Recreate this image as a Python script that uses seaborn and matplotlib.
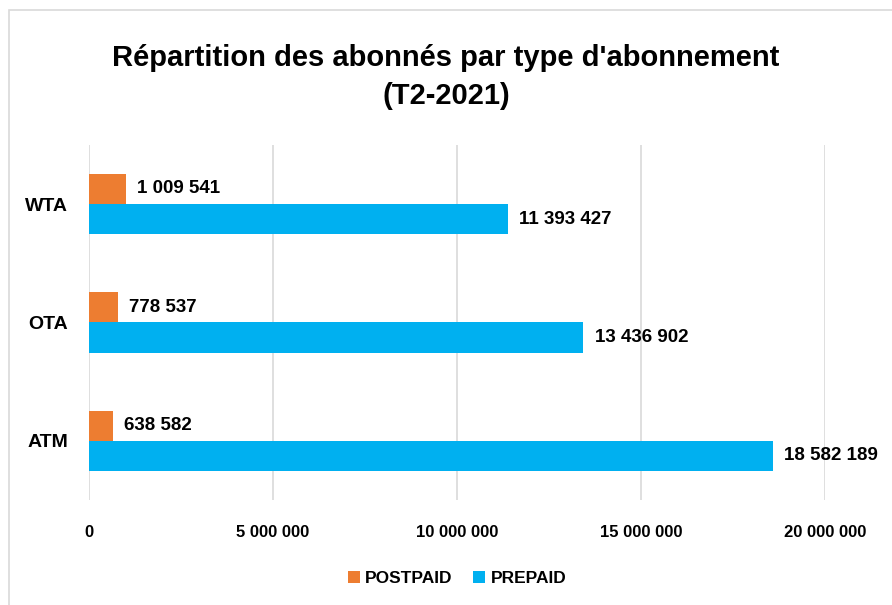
import matplotlib
matplotlib.use("Agg")
import matplotlib.pyplot as plt
import matplotlib.patches as patches
import pandas as pd
import seaborn as sns

# values
operators = ["WTA", "OTA", "ATM"]
postpaid = [1009541, 778537, 638582]
prepaid = [11393427, 13436902, 18582189]
series = ["POSTPAID", "PREPAID"]
colors = ["#ED7D31", "#00B0F0"]
xticks = [0, 5000000, 10000000, 15000000, 20000000]

def fmt(v):
    return f"{v:,.0f}".replace(",", " ")

df = pd.DataFrame({
    "operateur": operators * 2,
    "type": ["POSTPAID"] * 3 + ["PREPAID"] * 3,
    "abonnes": postpaid + prepaid,
})

sns.set_style("white")
plt.rcParams["font.family"] = ["Liberation Sans Narrow", "Liberation Sans", "DejaVu Sans"]
plt.rcParams["font.weight"] = "bold"
plt.rcParams["text.color"] = "black"
plt.rcParams["xtick.color"] = "black"
plt.rcParams["ytick.color"] = "black"

fig = plt.figure(figsize=(8.92, 6.05), dpi=100)
ax = fig.add_axes([0.0998, 0.1736, 0.825, 0.587])

sns.barplot(data=df, y="operateur", x="abonnes", hue="type", order=operators,
            hue_order=series, palette=colors, orient="h", width=0.51,
            saturation=1, linewidth=0, ax=ax)

for cont in ax.containers:
    ax.bar_label(cont, labels=[fmt(v) for v in cont.datavalues], padding=8,
                 fontsize=13.5, fontweight="bold", color="black")

ax.set_xlim(0, 20000000)
ax.set_ylim(2.5, -0.5)
ax.set_xticks(xticks)
ax.set_xticklabels([fmt(v) for v in xticks], fontsize=12, fontweight="bold")
ax.set_yticks(range(len(operators)))
ax.set_yticklabels(operators, fontsize=14, fontweight="bold")
ax.tick_params(axis="x", length=0, pad=18)
ax.tick_params(axis="y", length=0, pad=15)
ax.set_xlabel("")
ax.set_ylabel("")
ax.grid(axis="x", color="#d9d9d9", linewidth=1.2)
ax.set_axisbelow(True)
for s in ax.spines.values():
    s.set_visible(False)

ax.legend(loc="upper center", bbox_to_anchor=(0.5, -0.155), ncol=2, frameon=False,
          fontsize=12.5, handlelength=0.7, handleheight=0.7, handletextpad=0.3,
          columnspacing=1.2)

fig.suptitle("Répartition des abonnés par type d'abonnement\n(T2-2021)",
             fontsize=21, fontweight="bold", y=0.927, linespacing=1.45)

fig.patches.append(patches.Rectangle((9 / 892, -0.1), 2, 1.1 - 10 / 605,
                                     transform=fig.transFigure, fill=False,
                                     edgecolor="#d9d9d9", linewidth=1.2))

fig.savefig("out.png", dpi=100)
